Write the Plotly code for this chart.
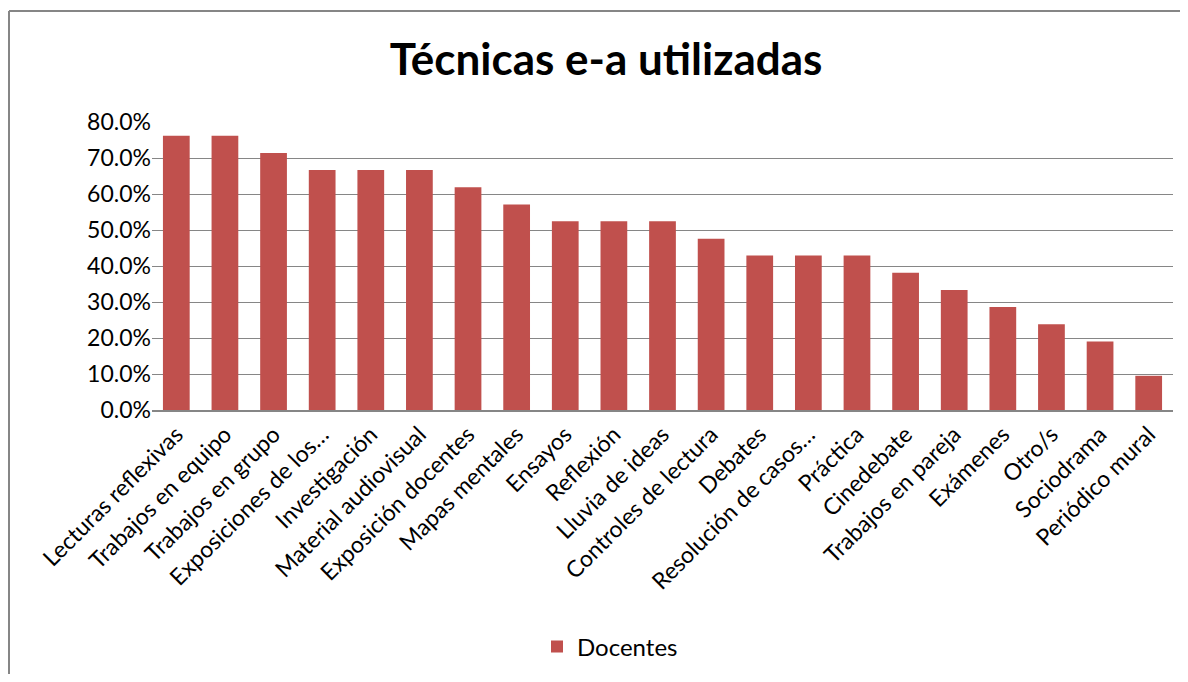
import plotly.graph_objects as go

categories = ["Lecturas reflexivas", "Trabajos en equipo", "Trabajos en grupo",
              "Exposiciones de los…", "Investigación", "Material audiovisual",
              "Exposición docentes", "Mapas mentales", "Ensayos", "Reflexión",
              "Lluvia de ideas", "Controles de lectura", "Debates",
              "Resolución de casos…", "Práctica", "Cinedebate",
              "Trabajos en pareja", "Exámenes", "Otro/s", "Sociodrama",
              "Periódico mural"]
values = [0.762, 0.762, 0.714, 0.667, 0.667, 0.667, 0.619, 0.571, 0.524, 0.524,
          0.524, 0.476, 0.429, 0.429, 0.429, 0.381, 0.333, 0.286, 0.238, 0.190,
          0.095]
series_name = "Docentes"
title_text = "Técnicas e-a utilizadas"

FONT = "Lato"
OFF = 8  # page body margin offset
W, H = 1188 - OFF, 682 - 2 * OFF
L, T = 152 - OFF, 122 - OFF
R = W - (1173 - OFF)
B = H - (410 - OFF)
pw, ph = W - L - R, H - T - B
y_bottom = 410 - OFF

fig = go.Figure()
fig.add_trace(go.Bar(x=categories, y=values, name=series_name,
                     marker=dict(color="#C0504D", line=dict(width=0)),
                     showlegend=True))

fig.update_layout(
    width=W, height=H,
    margin=dict(l=L, r=R, t=T, b=B, autoexpand=False),
    paper_bgcolor="white", plot_bgcolor="white",
    bargap=0.45,
    font=dict(family=FONT, size=23, color="black"),
    title=dict(text="<b>" + title_text + "</b>", x=(606 - OFF) / W, xanchor="center",
               y=1 - (60 - OFF) / H, yanchor="middle", yref="container",
               font=dict(family=FONT, size=44, color="black")),
    xaxis=dict(tickangle=-45, showgrid=False, showline=True, linecolor="#868686",
               linewidth=2, ticks="", automargin=False,
               tickfont=dict(size=23, color="black")),
    yaxis=dict(range=[0, 0.8], dtick=0.1, tickformat=".1%", showgrid=True,
               gridcolor="#868686", gridwidth=1, zeroline=False, showline=False,
               ticks="", automargin=False,
               tickfont=dict(size=23, color="black")),
    showlegend=True,
    legend=dict(orientation="h", x=(610 - OFF - L) / pw, xanchor="center",
                y=(y_bottom - (647 - OFF)) / ph, yanchor="middle",
                font=dict(size=24, color="black"), itemwidth=30),
)

# outer chart frame (left and top edges visible)
x0 = (8 - OFF + 1 - L) / pw
y0 = (y_bottom - (10 - OFF + 1)) / ph
fig.add_shape(type="line", xref="paper", yref="paper", x0=x0, x1=x0,
              y0=y0, y1=-(B + 5) / ph, line=dict(color="#868686", width=2))
fig.add_shape(type="line", xref="paper", yref="paper", x0=x0, x1=(W + 5 - L) / pw,
              y0=y0, y1=y0, line=dict(color="#868686", width=2))

fig.write_html("out.html")
